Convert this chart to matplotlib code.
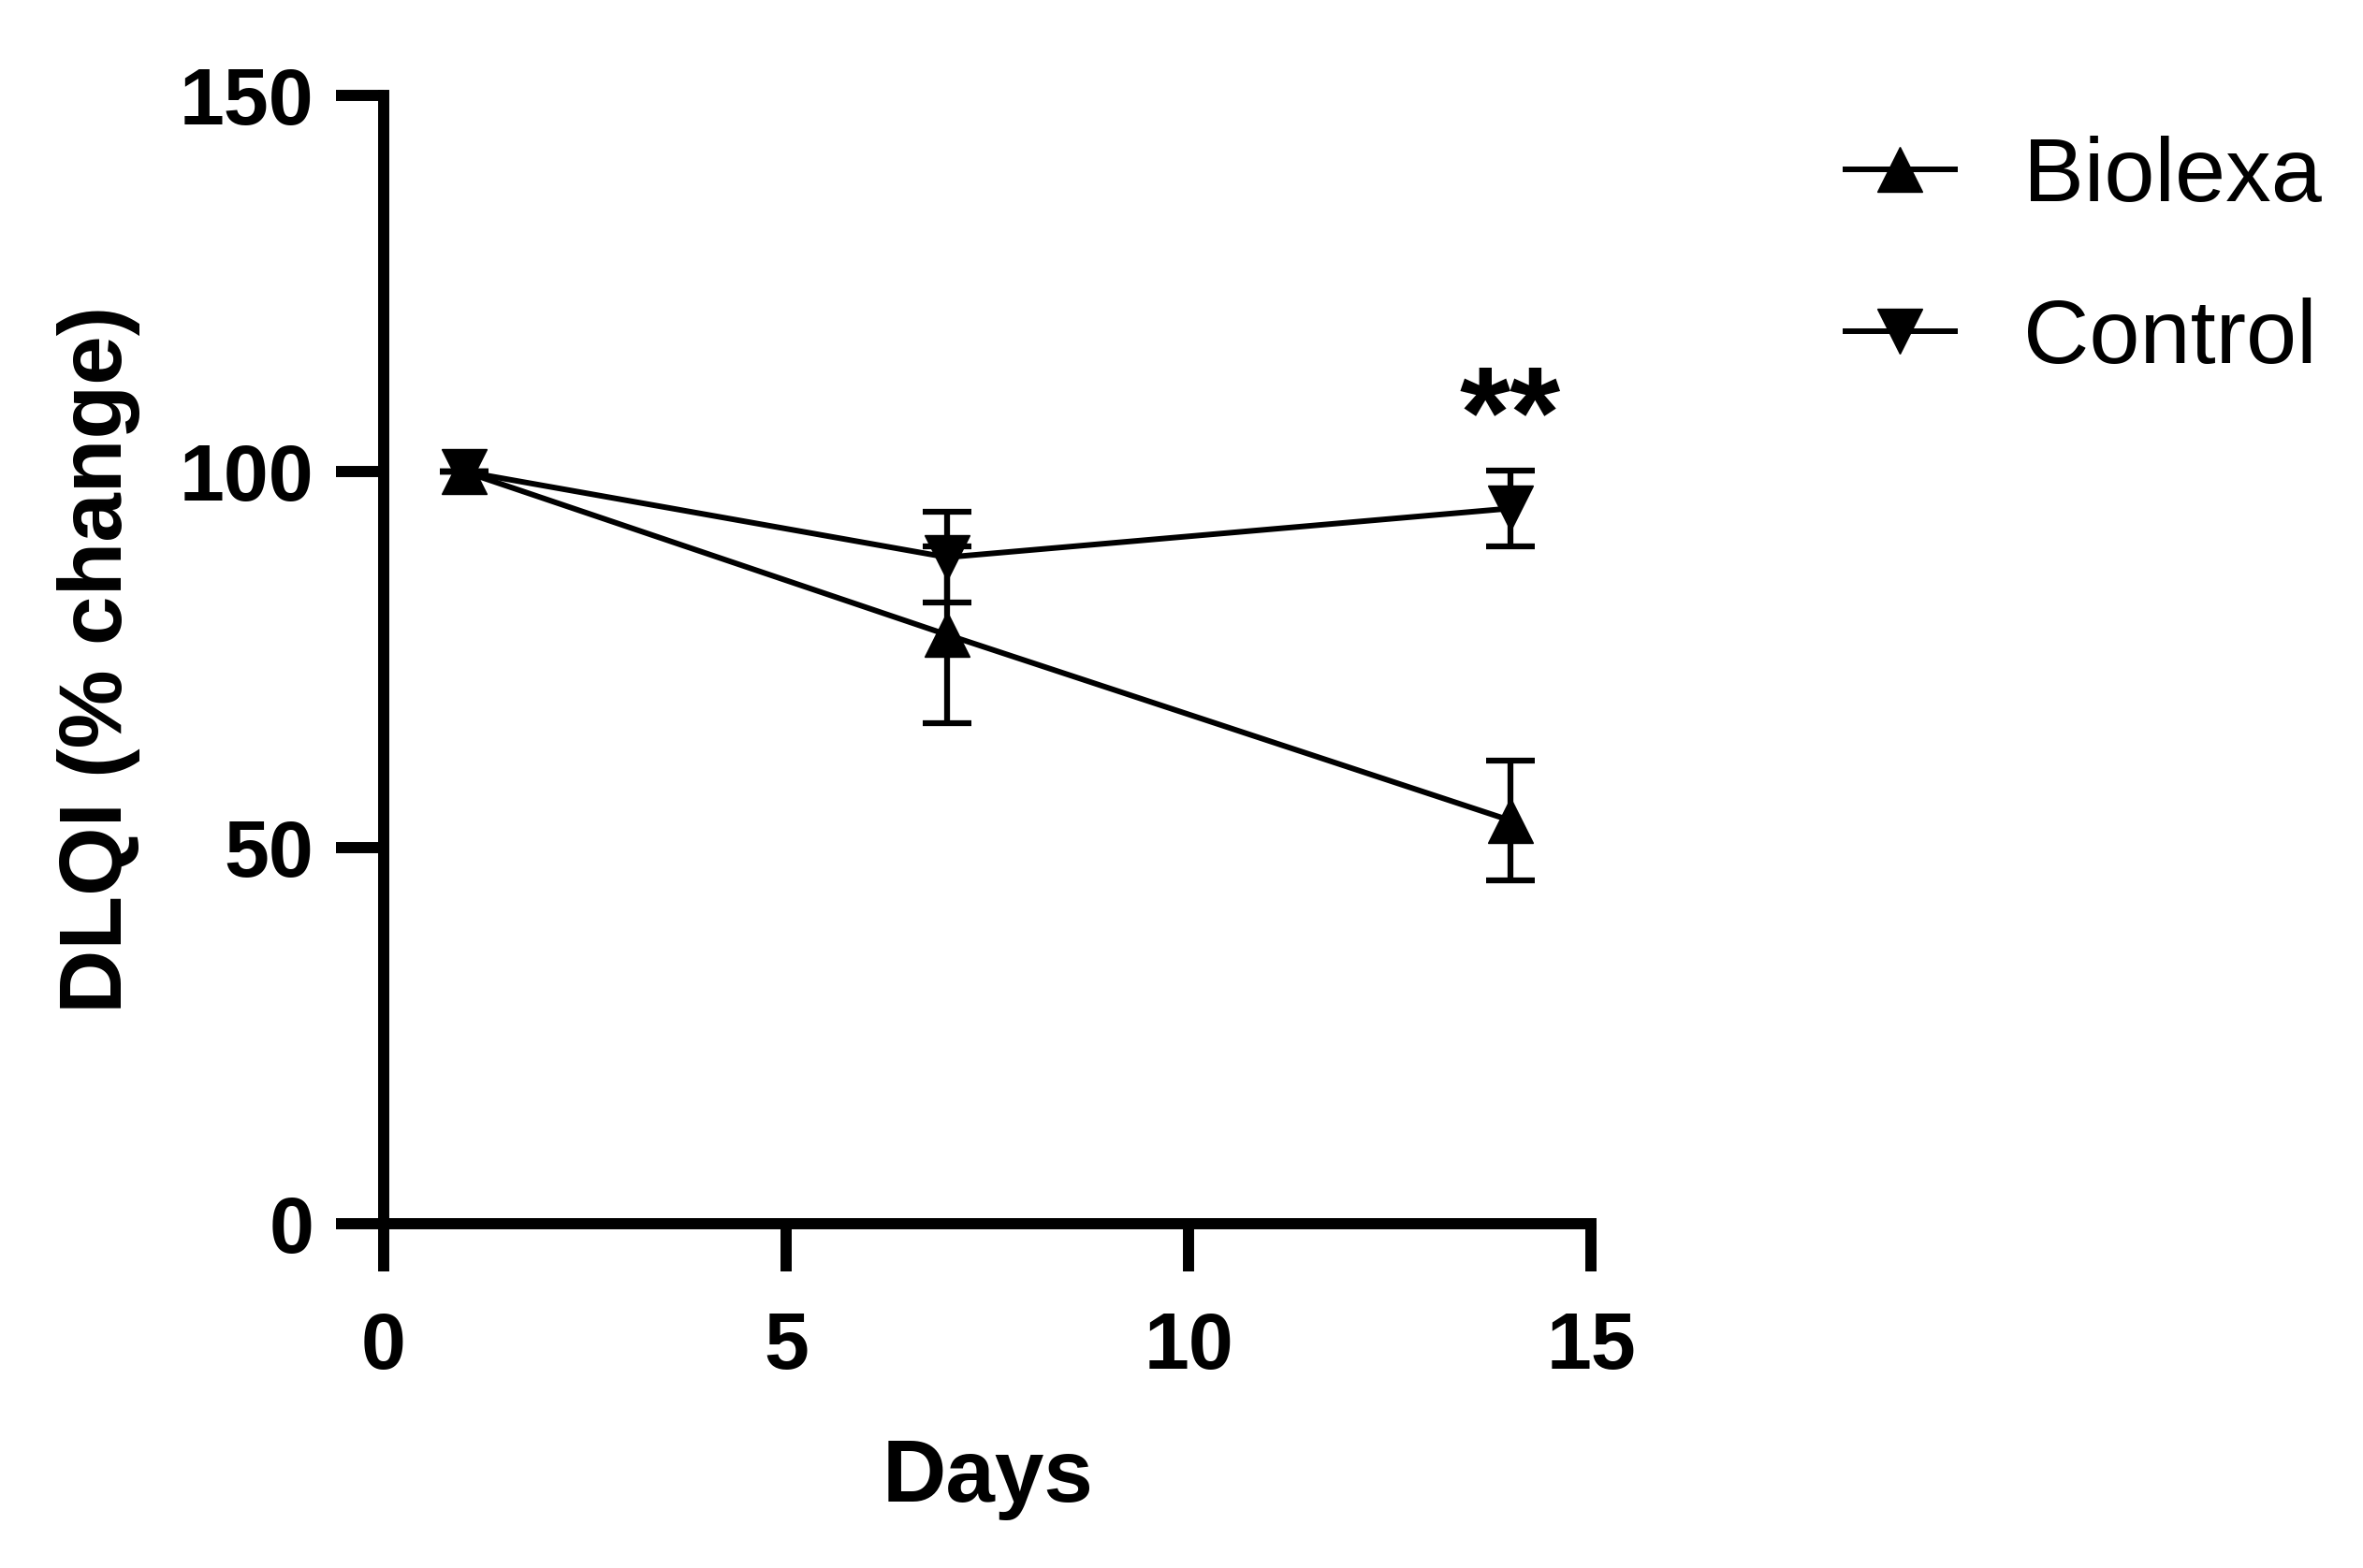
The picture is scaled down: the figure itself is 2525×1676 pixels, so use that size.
import matplotlib.pyplot as plt
from matplotlib.lines import Line2D

# DLQI % change over time, mean +/- error
days = [1, 7, 14]
biolexa = [100, 78.3, 53.6]
biolexa_err = [0, 11.7, 8.0]
control = [100, 88.6, 95.1]
control_err = [0, 6.0, 5.0]

plt.rcParams['font.family'] = ['Liberation Sans', 'DejaVu Sans']

fig = plt.figure(figsize=(25.25, 16.76), dpi=100)
ax = fig.add_axes([0.1624, 0.2196, 0.5109, 0.7195])

lw = 4.3
ms = 35
eb1 = ax.errorbar(days, biolexa, yerr=biolexa_err, color='black', lw=lw, marker='^', ms=ms,
                  elinewidth=4.5, capsize=19, capthick=4.5, clip_on=False, zorder=3)
eb2 = ax.errorbar(days, control, yerr=control_err, color='black', lw=lw, marker='v', ms=ms,
                  elinewidth=4.5, capsize=19, capthick=4.5, clip_on=False, zorder=3)
for eb in (eb1, eb2):
    for c in eb[1]:
        c.set_solid_capstyle('round')
        c.set_clip_on(False)
    for b in eb[2]:
        b.set_clip_on(False)

ax.set_xlim(0, 15)
ax.set_ylim(0, 150)
ax.set_xticks([0, 5, 10, 15])
ax.set_yticks([0, 50, 100, 150])

for side in ['top', 'right']:
    ax.spines[side].set_visible(False)
for side in ['left', 'bottom']:
    ax.spines[side].set_linewidth(8.6)
    ax.spines[side].set_capstyle('projecting')

ax.tick_params(axis='both', direction='out', length=36.7, width=8.6, labelsize=62)
ax.tick_params(axis='x', pad=30)
ax.tick_params(axis='y', pad=17)
for lab in ax.get_xticklabels() + ax.get_yticklabels():
    lab.set_fontweight('bold')

ax.set_xlabel('Days', fontsize=68, fontweight='bold', labelpad=40)
ax.set_ylabel('DLQI (% change)', fontsize=68, fontweight='bold', labelpad=30)

# significance marker above day 14
ax.text(14, 106.5, '**', fontsize=100, fontweight='bold', ha='center', va='center')

handles = [Line2D([], [], color='black', lw=lw, marker='^', ms=ms),
           Line2D([], [], color='black', lw=lw, marker='v', ms=ms)]
ax.legend(handles, ['Biolexa', 'Control'], loc='upper left',
          bbox_to_anchor=(1972 / 2525, 1 - 145 / 1676), bbox_transform=fig.transFigure,
          frameon=False, fontsize=70, handlelength=1.2, handletextpad=0.75,
          labelspacing=0.85, borderpad=0, borderaxespad=0)

fig.savefig('out.png', dpi=100)
